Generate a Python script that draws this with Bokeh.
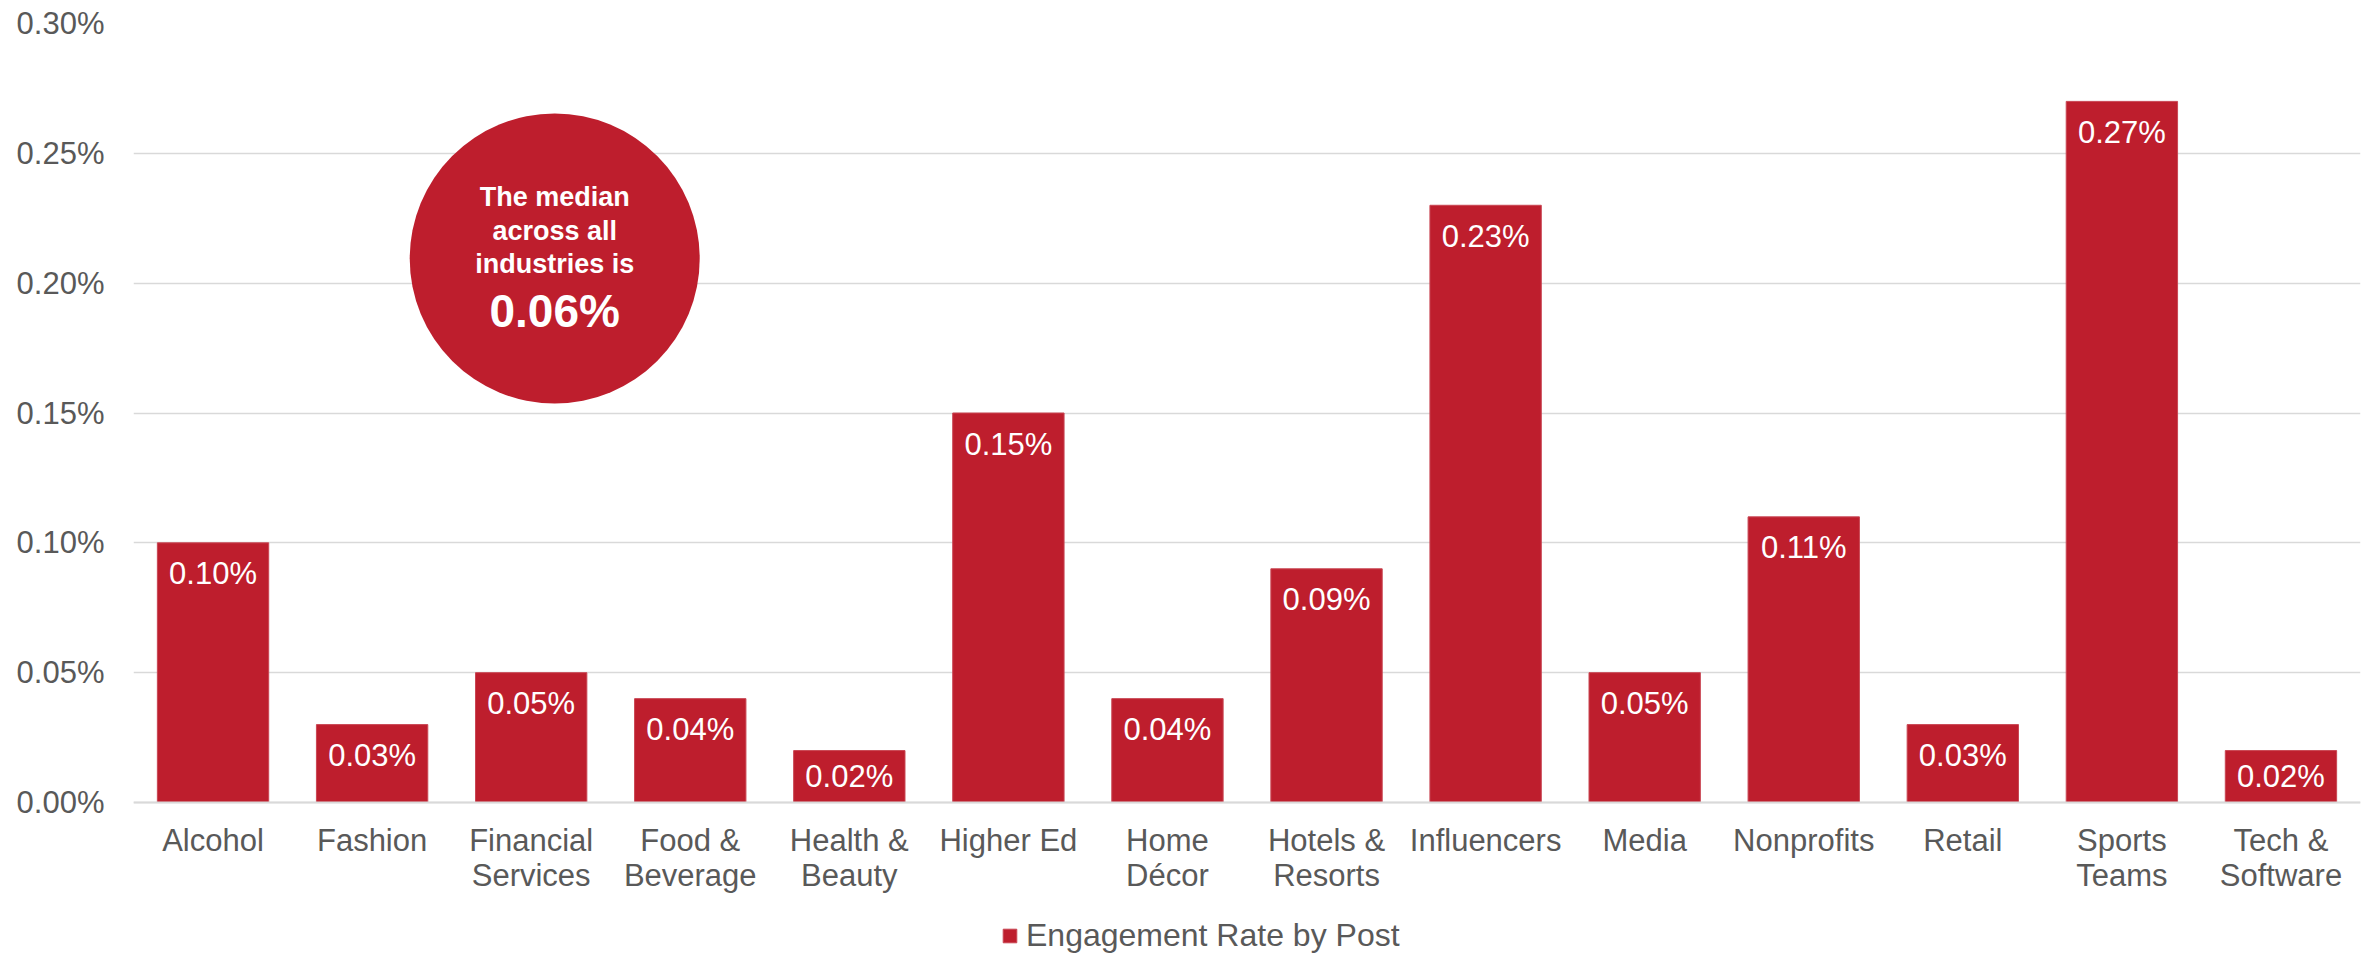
from bokeh.plotting import figure
from bokeh.models import (ColumnDataSource, FactorRange, Range1d, FixedTicker,
                          PrintfTickFormatter, Legend, LegendItem)
from bokeh.transform import dodge
from bokeh.core.properties import value
from bokeh.embed import file_html
from bokeh.resources import INLINE

# ---- data ----
categories = ["Alcohol", "Fashion", "Financial Services", "Food & Beverage",
              "Health & Beauty", "Higher Ed", "Home Décor", "Hotels & Resorts",
              "Influencers", "Media", "Nonprofits", "Retail", "Sports Teams",
              "Tech & Software"]
tick_labels = ["Alcohol", "Fashion", "Financial\nServices", "Food &\nBeverage",
               "Health &\nBeauty", "Higher Ed", "Home\nDécor", "Hotels &\nResorts",
               "Influencers", "Media", "Nonprofits", "Retail", "Sports\nTeams",
               "Tech &\nSoftware"]
engagement = [0.10, 0.03, 0.05, 0.04, 0.02, 0.15, 0.04, 0.09, 0.23, 0.05,
              0.11, 0.03, 0.27, 0.02]
series_name = "Engagement Rate by Post"
y_ticks = [0.00, 0.05, 0.10, 0.15, 0.20, 0.25, 0.30]
median_value = 0.06
callout_lines = ["The median", "across all", "industries is"]

RED = "#BE1E2D"
GRAY = "#595959"
GRID = "#D9D9D9"
FONT = "Liberation Sans"

# layout: value axis 0..0.30 spans 779 px; 151 px of room below zero for labels/legend
PLOT_H, BELOW_H = 779, 151
y_max = y_ticks[-1]
y_min = -y_max * BELOW_H / PLOT_H
px_per_unit = PLOT_H / y_max

# label sits inside the bar top; pulled up a little for very short bars
label_off = [min(31, v * px_per_unit - 26) for v in engagement]

src = ColumnDataSource(dict(cat=tick_labels, val=engagement, off=label_off,
                            lab=[f"{v:.2f}%" for v in engagement]))

p = figure(x_range=FactorRange(*tick_labels, range_padding=0),
           y_range=Range1d(y_min, y_max),
           frame_width=2227, frame_height=PLOT_H + BELOW_H,
           output_backend="svg", toolbar_location=None,
           min_border_left=133, min_border_right=12, min_border_top=23,
           min_border_bottom=0)
p.outline_line_color = None
p.background_fill_color = "white"
p.border_fill_color = "white"

bars = p.vbar(x="cat", top="val", width=0.70, source=src, fill_color=RED,
              line_color="#C94653", line_width=1)

p.text(x="cat", y="val", text="lab", source=src, y_offset="off",
       text_align="center", text_baseline="alphabetic",
       text_font=value(FONT), text_font_size="31px", text_color="white")

# median callout bubble
anchor = tick_labels[2]
p.scatter(x=dodge("cx", 0.148, range=p.x_range), y="cy", size=290,
          fill_color=RED, line_color=None,
          source=ColumnDataSource(dict(cx=[anchor], cy=[0.2095])))
csrc = ColumnDataSource(dict(cx=[anchor] * 4, cy=[0.2095] * 4,
                             t=callout_lines + [f"{median_value:.2f}%"],
                             off=[-61, -27, 6, 53],
                             fs=["27px", "27px", "27px", "46px"]))
p.text(x=dodge("cx", 0.148, range=p.x_range), y="cy", text="t", y_offset="off",
       text_font_size="fs", source=csrc, text_align="center",
       text_baseline="alphabetic", text_font=value(FONT),
       text_font_style="bold", text_color="white")

# axes
p.yaxis.ticker = FixedTicker(ticks=y_ticks)
p.yaxis.formatter = PrintfTickFormatter(format="%.2f%%")
p.yaxis.axis_line_color = None
p.yaxis.major_tick_line_color = None
p.yaxis.minor_tick_line_color = None
p.yaxis.major_tick_out = 0
p.yaxis.major_label_standoff = 29
p.yaxis.major_label_text_font = FONT
p.yaxis.major_label_text_font_size = "31px"
p.yaxis.major_label_text_color = GRAY

p.xaxis.fixed_location = 0
p.xaxis.axis_line_color = GRID
p.xaxis.axis_line_width = 2
p.xaxis.major_tick_line_color = None
p.xaxis.major_tick_out = 0
p.xaxis.major_label_standoff = 20
p.xaxis.major_label_text_font = FONT
p.xaxis.major_label_text_font_size = "31px"
p.xaxis.major_label_text_color = GRAY
p.xaxis.major_label_text_line_height = 1.0

p.xgrid.grid_line_color = None
p.ygrid.grid_line_color = GRID
p.ygrid.grid_line_width = 1.5

legend = Legend(items=[LegendItem(label=series_name, renderers=[bars])],
                orientation="horizontal", location=(868, -1),
                glyph_width=17, glyph_height=17, label_standoff=8,
                label_height=17,
                label_text_font=FONT, label_text_font_size="32px",
                label_text_color=GRAY, border_line_color=None,
                background_fill_alpha=0, padding=0, margin=0)
p.add_layout(legend)

open("out.html", "w").write(file_html(p, INLINE))
